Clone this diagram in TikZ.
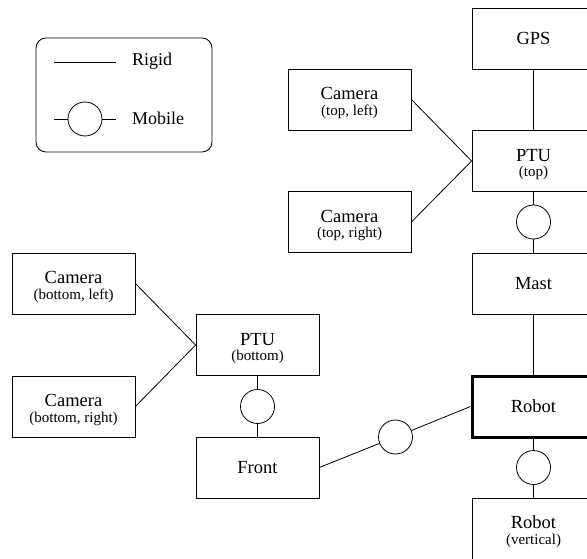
\documentclass[tikz,border=0pt]{standalone}
\usepackage{fontspec}
\setmainfont{Liberation Serif}
\newcommand\subcap{\fontsize{15}{15.5}\selectfont}
% raises the first line of a two-line caption so the block sits a little low
\newcommand\toprow{\rule{0pt}{19.5pt}}
\tikzset{
  part/.style={draw, line width=0.8pt, rectangle, minimum width=123pt, minimum height=61pt,
    inner sep=0pt, align=center, font=\fontsize{18.5}{15.5}\selectfont},
  base/.style={part, line width=3pt},
  joint/.style={draw, line width=0.8pt, circle, minimum size=34pt, inner sep=0pt},
  link/.style={line width=0.8pt},
  legendbox/.style={draw, line width=0.8pt, rounded corners=10pt},
  legendtext/.style={anchor=base west, font=\fontsize{18}{18}\selectfont, inner sep=0pt}
}
\begin{document}
\begin{tikzpicture}[x=1pt, y=-1pt]
\useasboundingbox (0,0) rectangle (587,559);
\clip (0,0) rectangle (587,559);

% legend
\node[legendbox, minimum width=176pt, minimum height=114pt] (legend) at (124,95) {};
\coordinate (ra) at (54,62);
\coordinate (rb) at (116,62);
\draw[link] (ra) -- (rb);
\node[legendtext] (rigid) at (132,66) {Rigid};
\coordinate (ma) at (54,119);
\coordinate (mb) at (116,119);
\node[joint] (mj) at (85,119) {};
\draw[link] (ma) -- (mj) -- (mb);
\node[legendtext] (mobile) at (132,124.5) {Mobile};

% mast column
\node[part] (gps) at (533.5,38.5) {GPS};
\node[part] (ptut) at (533.5,161) {\toprow PTU\\\subcap (top)};
\node[joint] (j1) at (533.5,222) {};
\node[part] (mast) at (533.5,283.5) {Mast};
\node[base] (robot) at (533.5,406.5) {Robot};
\node[joint] (j2) at (533.5,467.5) {};
\node[part] (robotv) at (533.5,528.5) {\toprow Robot\\\subcap (vertical)};

% top cameras
\node[part] (camtl) at (349.5,99.5) {\toprow Camera\\\subcap (top, left)};
\node[part] (camtr) at (349.5,222) {\toprow Camera\\\subcap (top, right)};

% front part
\node[part] (ptub) at (257.5,345) {\toprow PTU\\\subcap (bottom)};
\node[joint] (j3) at (257.5,406.5) {};
\node[part] (front) at (257.5,467.5) {Front};
\node[part] (cambl) at (73.5,283.5) {\toprow Camera\\\subcap (bottom, left)};
\node[part] (cambr) at (73.5,406.5) {\toprow Camera\\\subcap (bottom, right)};
\node[joint] (j4) at (395.5,437) {};

% connections
\draw[link] (gps) -- (ptut);
\draw[link] (ptut) -- (j1) -- (mast);
\draw[link] (mast) -- (robot);
\draw[link] (robot) -- (j2) -- (robotv);
\draw[link] (camtl.east) -- (ptut.west);
\draw[link] (camtr.east) -- (ptut.west);
\draw[link] (cambl.east) -- (ptub.west);
\draw[link] (cambr.east) -- (ptub.west);
\draw[link] (ptub) -- (j3) -- (front);
\draw[link] (front.east) -- (j4) -- (robot.west);
\end{tikzpicture}
\end{document}
